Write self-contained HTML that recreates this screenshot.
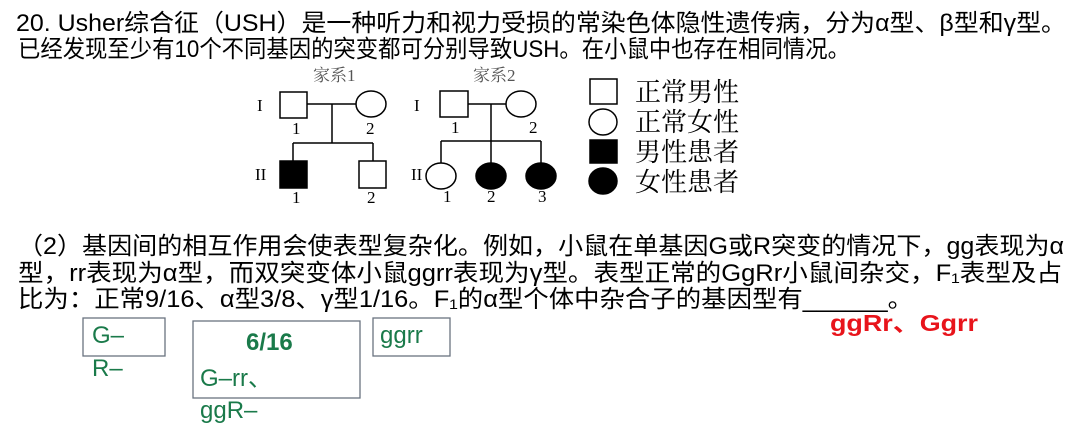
<!DOCTYPE html>
<html><head><meta charset="utf-8"><style>
html,body{margin:0;padding:0;background:#fff;}
svg{display:block;}
.t{font-family:"Liberation Sans","Noto Sans CJK SC",sans-serif;font-size:24px;fill:#000;}
.s{font-family:"Liberation Serif","Noto Serif CJK SC",serif;fill:#000;}
.g{font-family:"Liberation Sans",sans-serif;fill:#1a7a4a;font-size:24px;}
</style></head><body>
<svg width="1080" height="436" viewBox="0 0 1080 436" xmlns="http://www.w3.org/2000/svg">
<text class="t" x="16" y="31" textLength="1050" lengthAdjust="spacingAndGlyphs">20. Usher综合征（USH）是一种听力和视力受损的常染色体隐性遗传病，分为α型、β型和γ型。</text>
<text class="t" x="18" y="57" textLength="832" lengthAdjust="spacingAndGlyphs">已经发现至少有10个不同基因的突变都可分别导致USH。在小鼠中也存在相同情况。</text>

<g stroke="#000" stroke-width="1.5" fill="none">
<rect x="280" y="92" width="27" height="26" fill="#fff"/>
<ellipse cx="371" cy="104" rx="15" ry="13" fill="#fff"/>
<line x1="307" y1="104" x2="356" y2="104"/>
<line x1="332" y1="104" x2="332" y2="143"/>
<line x1="293" y1="143" x2="373" y2="143"/>
<line x1="293" y1="143" x2="293" y2="161"/>
<line x1="373" y1="143" x2="373" y2="161"/>
<rect x="280" y="161" width="27" height="27" fill="#000"/>
<rect x="359" y="161" width="27" height="27" fill="#fff"/>
<rect x="440" y="91" width="28" height="26" fill="#fff"/>
<ellipse cx="521" cy="104" rx="15" ry="13" fill="#fff"/>
<line x1="468" y1="104" x2="506" y2="104"/>
<line x1="491" y1="104" x2="491" y2="163"/>
<line x1="441" y1="141" x2="541" y2="141"/>
<line x1="441" y1="141" x2="441" y2="163"/>
<line x1="541" y1="141" x2="541" y2="163"/>
<ellipse cx="441" cy="176" rx="15" ry="13" fill="#fff"/>
<ellipse cx="491" cy="176" rx="15" ry="13" fill="#000"/>
<ellipse cx="541" cy="176" rx="15" ry="13" fill="#000"/>
<rect x="590" y="79" width="27" height="25" fill="#fff"/>
<ellipse cx="603" cy="122" rx="14" ry="13" fill="#fff"/>
<rect x="590" y="140" width="27" height="23" fill="#000"/>
<ellipse cx="603" cy="181" rx="14" ry="13" fill="#000"/>
</g>
<g class="s" font-size="17">
<text x="313" y="81" fill="#555">家系1</text>
<text x="473" y="81" fill="#555">家系2</text>
<text x="257" y="111">I</text>
<text x="255" y="180">II</text>
<text x="292" y="134">1</text>
<text x="366" y="134">2</text>
<text x="292" y="203">1</text>
<text x="367" y="203">2</text>
<text x="414" y="111">I</text>
<text x="411" y="180">II</text>
<text x="451" y="133">1</text>
<text x="529" y="133">2</text>
<text x="443" y="202">1</text>
<text x="487" y="202">2</text>
<text x="538" y="202">3</text>
</g>
<g class="s" font-size="26">
<text x="635" y="101">正常男性</text>
<text x="635" y="131">正常女性</text>
<text x="635" y="161">男性患者</text>
<text x="635" y="191">女性患者</text>
</g>

<text class="t" x="18" y="254" textLength="1046" lengthAdjust="spacingAndGlyphs">（2）基因间的相互作用会使表型复杂化。例如，小鼠在单基因G或R突变的情况下，gg表现为α</text>
<text class="t" x="18" y="281" textLength="1044" lengthAdjust="spacingAndGlyphs">型，rr表现为α型，而双突变体小鼠ggrr表现为γ型。表型正常的GgRr小鼠间杂交，F₁表型及占</text>
<text class="t" x="18" y="307" textLength="895" lengthAdjust="spacingAndGlyphs">比为：正常9/16、α型3/8、γ型1/16。F₁的α型个体中杂合子的基因型有______。</text>

<g fill="none" stroke="#6a7380" stroke-width="1.3">
<rect x="83" y="318" width="82" height="38"/>
<rect x="193" y="321" width="167" height="77"/>
<rect x="373" y="318" width="77" height="38"/>
</g>
<text class="g" x="92" y="343">G–</text>
<text class="g" x="92" y="376">R–</text>
<text class="g" x="246" y="350" font-weight="bold">6/16</text>
<text class="g" x="200" y="386">G–rr、</text>
<text class="g" x="200" y="418">ggR–</text>
<text class="g" x="380" y="343">ggrr</text>
<text x="830" y="331" font-family="Liberation Sans,Noto Sans CJK SC,sans-serif" font-size="23" font-weight="bold" fill="#e8141b" textLength="148" lengthAdjust="spacingAndGlyphs">ggRr、Ggrr</text>
</svg>
</body></html>
